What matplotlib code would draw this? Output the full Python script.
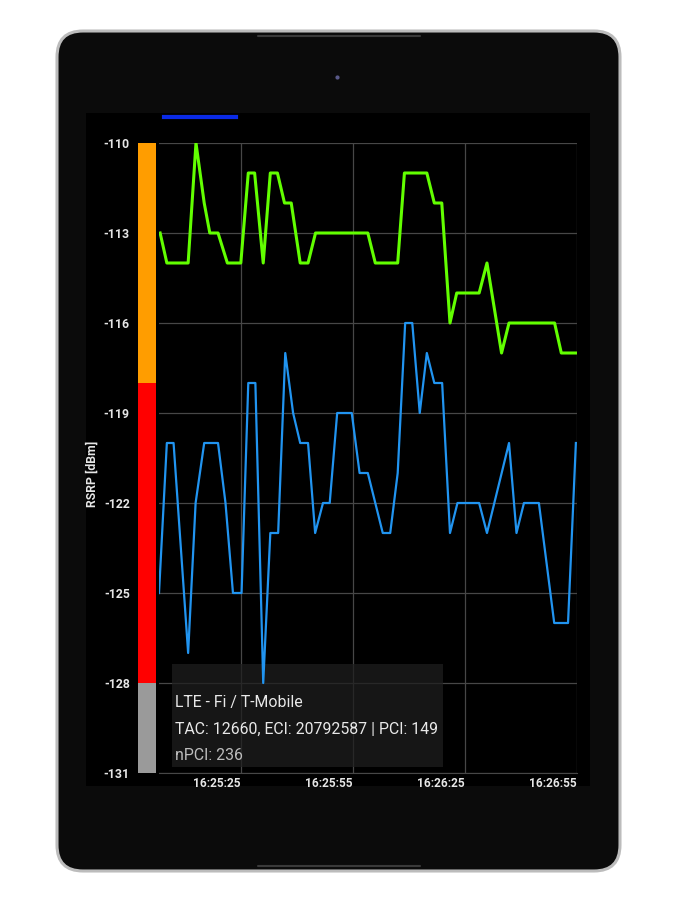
import matplotlib
matplotlib.use("Agg")
import matplotlib.pyplot as plt
import matplotlib.patches as mpatches
from matplotlib.ticker import FuncFormatter

plt.rcParams['font.family'] = ['Roboto', 'DejaVu Sans']
plt.rcParams['axes.unicode_minus'] = False

# seconds after 16:25:00
green_t = [3.4, 5.2, 10.9, 13.0, 15.2, 16.7, 18.9, 21.4, 25.0, 27.0, 28.7, 31.0,
           32.9, 34.8, 36.7, 38.5, 40.9, 43.0, 45.0, 59.0, 61.0, 67.0, 68.8, 74.8,
           76.8, 78.8, 81.0, 82.8, 88.8, 90.9, 94.8, 96.8, 109.0, 110.8, 114.9]
green_v = [-113, -114, -114, -110, -112, -113, -113, -114, -114, -111, -111, -114,
           -111, -111, -112, -112, -114, -114, -113, -113, -114, -114, -111, -111,
           -112, -112, -116, -115, -115, -114, -117, -116, -116, -117, -117]

blue_t = [3.1, 5.2, 7.0, 10.9, 12.9, 15.2, 18.9, 20.9, 22.9, 25.2, 27.0, 28.9,
          31.0, 32.9, 35.0, 36.9, 39.0, 40.9, 43.0, 44.9, 47.0, 48.8, 50.8, 54.7,
          56.8, 59.0, 63.0, 65.0, 67.0, 69.0, 70.9, 72.9, 74.8, 76.8, 78.9, 81.0,
          83.0, 88.8, 90.9, 96.8, 98.8, 100.8, 104.8, 108.9, 112.6, 114.7]
blue_v = [-125, -120, -120, -127, -122, -120, -120, -122, -125, -125, -118, -118,
          -128, -123, -123, -117, -119, -120, -120, -123, -122, -122, -119, -119,
          -121, -121, -123, -123, -121, -116, -116, -119, -117, -118, -118, -123,
          -122, -122, -123, -120, -123, -122, -122, -126, -126, -120]

y_ticks = [-110, -113, -116, -119, -122, -125, -128, -131]
x_ticks = [25, 55, 85, 115]

# signal quality zones: (bottom, top, colour)
zone_low = [-118, -128, -131]
zone_high = [-110, -118, -128]
zone_colors = ['#ff9d00', '#ff0000', '#9a9a9a']

info_lines = ["LTE - Fi / T-Mobile",
              "TAC: 12660, ECI: 20792587 | PCI: 149",
              "nPCI: 236"]

W, H = 675, 900
fig = plt.figure(figsize=(6.75, 9), dpi=100)
fig.patch.set_facecolor('white')

# tablet frame, drawn in pixel coords
bg = fig.add_axes([0, 0, 1, 1])
bg.set_xlim(0, W)
bg.set_ylim(H, 0)
bg.axis('off')
body = mpatches.FancyBboxPatch((57, 31), 563, 840, boxstyle="round,pad=0,rounding_size=26",
                               facecolor='#0b0b0b', edgecolor='#bcbcbc', linewidth=2.2)
bg.add_patch(body)
bg.plot([258, 420], [36, 36], color='#3a3a3a', lw=1.5, solid_capstyle='round')
bg.plot([258, 420], [866, 866], color='#3a3a3a', lw=1.5, solid_capstyle='round')
bg.plot([337], [77], marker='o', ms=2, color='#5a5a8a')
bg.add_patch(mpatches.Rectangle((86, 113), 504, 673, facecolor='black', edgecolor='none'))
bg.plot([164, 236], [117, 117], color='#0a2ae6', lw=3)

def fx(px):
    return px / W

def fy(py):
    return 1 - py / H

# main chart
ax = fig.add_axes([fx(159), fy(773), fx(577) - fx(159), fy(143) - fy(773)])
ax.set_facecolor('black')
ax.plot(blue_t, blue_v, color='#2194f0', lw=1.6, zorder=3)
ax.plot(green_t, green_v, color='#62ff00', lw=2.2, zorder=4)
ax.set_xlim(3.1, 115)
ax.set_ylim(-131, -110)
ax.set_yticks(y_ticks)
ax.set_xticks(x_ticks)
ax.xaxis.set_major_formatter(FuncFormatter(lambda s, p: "16:%02d:%02d" % (25 + int(s) // 60, int(s) % 60)))
ax.grid(True, color='#474747', lw=0.9, zorder=0)
for sp in ax.spines.values():
    sp.set_visible(False)
ax.spines['bottom'].set_visible(True)
ax.spines['bottom'].set_color('#474747')
ax.tick_params(axis='y', length=0, pad=21, labelsize=8.8, labelcolor='#e6e6e6')
ax.tick_params(axis='x', length=0, pad=3, labelsize=8.6, labelcolor='#e6e6e6')
for lab in ax.get_yticklabels():
    lab.set_fontweight('bold')
for lab in ax.get_xticklabels():
    lab.set_fontweight('bold')
    lab.set_horizontalalignment('right')

# colour zones to the left of the plot
zax = fig.add_axes([fx(138), fy(773), fx(156) - fx(138), fy(143) - fy(773)], sharey=ax)
zax.bar([0] * 3, [h - l for l, h in zip(zone_low, zone_high)], bottom=zone_low,
        color=zone_colors, width=1.0)
zax.set_xlim(-0.5, 0.5)
zax.axis('off')

fig.text(fx(92), fy(474), "RSRP [dBm]", rotation=90, ha='center', va='center',
         fontsize=8.8, fontweight='bold', color='#e6e6e6')

# info box
box = mpatches.Rectangle((fx(172), fy(767)), fx(443) - fx(172), fy(664) - fy(767),
                         transform=fig.transFigure, facecolor='#1e1e1e', alpha=0.75,
                         edgecolor='none', zorder=2, clip_on=False)
ax.add_patch(box)
for i, line in enumerate(info_lines):
    fig.text(fx(175), fy(703 + 26.5 * i), line, ha='left', va='center', fontsize=11.4,
             color='#e8e8e8' if i < 2 else '#bdbdbd', zorder=5)

fig.savefig("out.png", dpi=100)
